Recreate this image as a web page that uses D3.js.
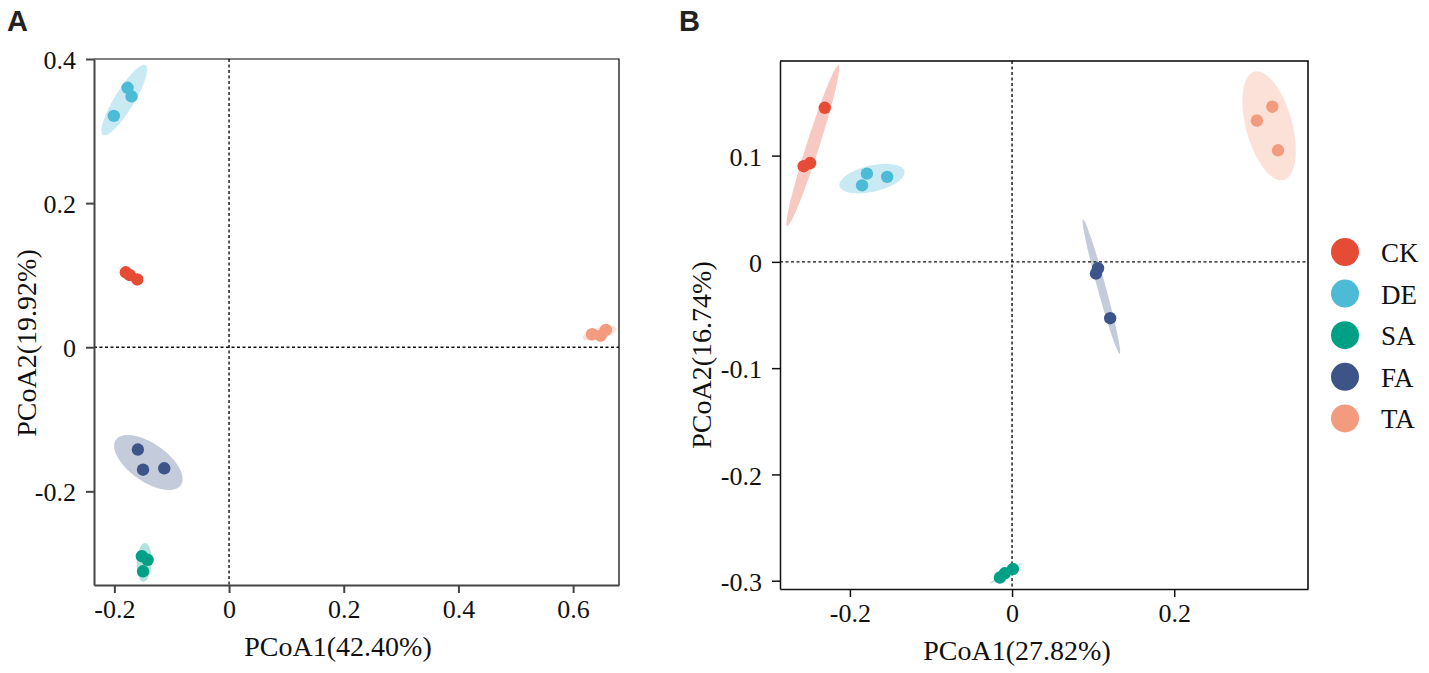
<!DOCTYPE html>
<html>
<head>
<meta charset="utf-8">
<script src="https://cdn.jsdelivr.net/npm/d3@7"></script>
<style>
  body { margin: 0; background: #fff; }
  svg { display: block; }
  text { font-family: "Liberation Serif", "Times New Roman", serif; }
</style>
</head>
<body>
<svg id="chart" width="1429" height="673"></svg>
<script>
// groups and colours (legend order)
const groups = ["CK", "DE", "SA", "FA", "TA"];
const groupColors = ["#E64B35", "#4DBBD5", "#00A087", "#3C5488", "#F39B7F"];

// panel A sample scores [group, PCoA1, PCoA2]
const pointsA = [
  ["CK", -0.180, 0.104], ["CK", -0.173, 0.100], ["CK", -0.160, 0.094],
  ["DE", -0.177, 0.360], ["DE", -0.170, 0.348], ["DE", -0.201, 0.321],
  ["SA", -0.152, -0.290], ["SA", -0.142, -0.295], ["SA", -0.150, -0.311],
  ["FA", -0.159, -0.142], ["FA", -0.150, -0.170], ["FA", -0.113, -0.168],
  ["TA", 0.633, 0.018], ["TA", 0.657, 0.024], ["TA", 0.648, 0.016]
];

// panel B sample scores
const pointsB = [
  ["CK", -0.231, 0.145], ["CK", -0.249, 0.093], ["CK", -0.257, 0.090],
  ["DE", -0.179, 0.083], ["DE", -0.154, 0.080], ["DE", -0.185, 0.072],
  ["SA", 0.001, -0.289], ["SA", -0.009, -0.293], ["SA", -0.015, -0.297],
  ["FA", 0.106, -0.006], ["FA", 0.1035, -0.011], ["FA", 0.121, -0.053],
  ["TA", 0.321, 0.146], ["TA", 0.302, 0.133], ["TA", 0.328, 0.105]
];

const xTicksA = [-0.2, 0, 0.2, 0.4, 0.6];
const yTicksA = [-0.2, 0, 0.2, 0.4];
const xTicksB = [-0.2, 0, 0.2];
const yTicksB = [-0.3, -0.2, -0.1, 0, 0.1];

const xTitleA = "PCoA1(42.40%)", yTitleA = "PCoA2(19.92%)";
const xTitleB = "PCoA1(27.82%)", yTitleB = "PCoA2(16.74%)";

const svg = d3.select("#chart");
const color = d3.scaleOrdinal().domain(groups).range(groupColors);
const CHI95 = Math.sqrt(5.991); // 95% normal ellipse

function fmt(d) {
  if (d === 0) return "0";
  return d3.format(".1f")(d).replace("\u2212", "-");
}

function ellipsePath(pts, x, y) {
  const n = pts.length;
  const mx = d3.mean(pts, p => p[1]), my = d3.mean(pts, p => p[2]);
  let sxx = 0, syy = 0, sxy = 0;
  pts.forEach(p => {
    const dx = p[1] - mx, dy = p[2] - my;
    sxx += dx * dx; syy += dy * dy; sxy += dx * dy;
  });
  sxx /= (n - 1); syy /= (n - 1); sxy /= (n - 1);
  const m = (sxx + syy) / 2, r = Math.sqrt(((sxx - syy) / 2) ** 2 + sxy * sxy);
  const a = CHI95 * Math.sqrt(m + r), b = CHI95 * Math.sqrt(Math.max(m - r, 0));
  const th = 0.5 * Math.atan2(2 * sxy, sxx - syy);
  const ring = d3.range(0, 2 * Math.PI, Math.PI / 90).map(t => [
    mx + a * Math.cos(t) * Math.cos(th) - b * Math.sin(t) * Math.sin(th),
    my + a * Math.cos(t) * Math.sin(th) + b * Math.sin(t) * Math.cos(th)
  ]);
  return d3.line().x(d => x(d[0])).y(d => y(d[1])).curve(d3.curveLinearClosed)(ring);
}

function drawPanel(cfg) {
  const { left, top, right, bottom } = cfg.frame;
  const x = d3.scaleLinear().domain(cfg.xDomain).range([left, right]);
  const y = d3.scaleLinear().domain(cfg.yDomain).range([bottom, top]);
  const g = svg.append("g");

  g.append("clipPath").attr("id", "clip" + cfg.label)
    .append("rect").attr("x", left).attr("y", top)
    .attr("width", right - left).attr("height", bottom - top);

  const plot = g.append("g").attr("clip-path", "url(#clip" + cfg.label + ")");

  // ellipses
  groups.forEach(grp => {
    const pts = cfg.points.filter(p => p[0] === grp);
    plot.append("path")
      .attr("d", ellipsePath(pts, x, y))
      .attr("fill", color(grp))
      .attr("fill-opacity", 0.3)
      .attr("stroke", "none");
  });

  // zero reference lines
  plot.append("line")
    .attr("x1", x(0)).attr("x2", x(0)).attr("y1", top).attr("y2", bottom)
    .attr("stroke", "#111").attr("stroke-width", 1.4).attr("stroke-dasharray", "3,2.5");
  plot.append("line")
    .attr("x1", left).attr("x2", right).attr("y1", y(0)).attr("y2", y(0))
    .attr("stroke", "#111").attr("stroke-width", 1.4).attr("stroke-dasharray", "3,2.5");

  // points
  plot.selectAll("circle.pt")
    .data(cfg.points)
    .enter().append("circle")
    .attr("class", "pt")
    .attr("cx", d => x(d[1]))
    .attr("cy", d => y(d[2]))
    .attr("r", 6.2)
    .attr("fill", d => color(d[0]));

  // frame: top and right
  g.append("path")
    .attr("d", `M${left},${top}H${right}V${bottom}`)
    .attr("fill", "none").attr("stroke", "#000").attr("stroke-width", cfg.frameWidth);

  // axes
  const xAxis = g.append("g")
    .attr("transform", `translate(0,${bottom})`)
    .call(d3.axisBottom(x).tickValues(cfg.xTicks).tickFormat(fmt).tickSize(8).tickSizeOuter(0));
  const yAxis = g.append("g")
    .attr("transform", `translate(${left},0)`)
    .call(d3.axisLeft(y).tickValues(cfg.yTicks).tickFormat(fmt).tickSize(8).tickSizeOuter(0));

  [xAxis, yAxis].forEach(ax => {
    ax.select(".domain").attr("stroke", cfg.axisColor).attr("stroke-width", cfg.axisWidth);
    ax.selectAll(".tick line").attr("stroke", cfg.axisColor).attr("stroke-width", cfg.axisWidth);
    ax.selectAll(".tick text")
      .attr("fill", "#111")
      .style("font-family", '"Liberation Serif", "Times New Roman", serif')
      .style("font-size", "26px");
  });
  xAxis.selectAll(".tick text").attr("y", 33).attr("dy", null);
  yAxis.selectAll(".tick text").attr("x", -18).attr("dy", "0.37em");

  // axis titles
  g.append("text")
    .attr("x", cfg.xTitleX).attr("y", bottom + 71)
    .attr("text-anchor", "middle")
    .style("font-size", "28px").attr("fill", "#111")
    .text(cfg.xTitle);
  g.append("text")
    .attr("transform", `translate(${cfg.yTitleX},${cfg.yTitleY}) rotate(-90)`)
    .attr("text-anchor", "middle")
    .style("font-size", "28px").attr("fill", "#111")
    .text(cfg.yTitle);

  // panel letter
  g.append("text")
    .attr("x", cfg.labelX).attr("y", 31)
    .style("font-family", '"Liberation Sans", Arial, sans-serif')
    .style("font-weight", "bold").style("font-size", "29px").attr("fill", "#222")
    .text(cfg.label);
}

drawPanel({
  label: "A", labelX: 7,
  frame: { left: 94, top: 59, right: 619, bottom: 585 },
  xDomain: [-0.2355, 0.680], yDomain: [-0.330, 0.400],
  xTicks: xTicksA, yTicks: yTicksA,
  xTitle: xTitleA, yTitle: yTitleA,
  xTitleX: 338, yTitleX: 36, yTitleY: 343,
  points: pointsA,
  axisColor: "#444", axisWidth: 2, frameWidth: 1.2
});

drawPanel({
  label: "B", labelX: 679,
  frame: { left: 780, top: 61, right: 1308, bottom: 589 },
  xDomain: [-0.2862, 0.365], yDomain: [-0.3078, 0.189],
  xTicks: xTicksB, yTicks: yTicksB,
  xTitle: xTitleB, yTitle: yTitleB,
  xTitleX: 1017, yTitleX: 711, yTitleY: 355,
  points: pointsB,
  axisColor: "#111", axisWidth: 1.5, frameWidth: 1.5
});

// legend
const legend = svg.append("g").attr("transform", "translate(1345,252)");
const item = legend.selectAll("g.item")
  .data(groups)
  .enter().append("g")
  .attr("class", "item")
  .attr("transform", (d, i) => `translate(0,${i * 41.6})`);
item.append("circle").attr("r", 14).attr("fill", d => color(d));
item.append("text")
  .attr("x", 36).attr("y", 10)
  .style("font-size", "27px").attr("fill", "#111")
  .text(d => d);
</script>
</body>
</html>
